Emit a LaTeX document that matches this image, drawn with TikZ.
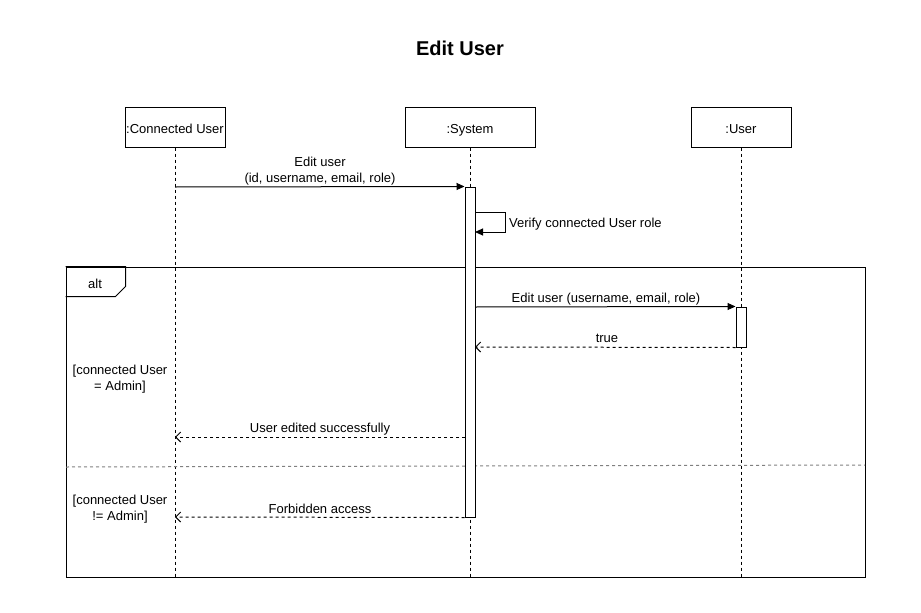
\documentclass[tikz,border=0pt]{standalone}
\usepackage{fontspec}
\setmainfont{Liberation Sans}
\usetikzlibrary{arrows.meta}
\begin{document}
\begin{tikzpicture}[x=1pt,y=-1pt,
  every node/.style={font=\fontsize{13}{16}\selectfont, inner sep=0pt},
  txt/.style={yshift=-2pt},
  head/.style={draw, fill=white, minimum width=100pt, minimum height=40pt, line width=1pt, text height=13.4pt, text depth=0pt},
  life/.style={dash pattern=on 3pt off 3pt, line width=1pt},
  act/.style={draw, fill=white, minimum width=10pt, line width=1pt},
  sync/.style={-{Triangle[length=8pt,width=7pt]}, line width=1pt},
  reply/.style={-{Straight Barb[length=5pt,width=10pt]}, dash pattern=on 3pt off 3pt, line width=1pt},
  frm/.style={draw, line width=1pt, minimum width=799pt, minimum height=310pt},
  sep/.style={draw=gray, dash pattern=on 3pt off 3pt, line width=1pt},
  lbl/.style={txt, align=center}
]
\useasboundingbox (0,0) rectangle (921,613);

\node[font=\fontsize{20}{24}\selectfont\bfseries] (title) at (460,48) {Edit User};

\node[head] (cu) at (175,127) {:Connected User};
\node[head, minimum width=130pt] (sys) at (470,127) {:System};
\node[head] (usr) at (741,127) {:User};

\coordinate (bottom) at (0,577);
\draw[life] (cu.south) -- (cu.south |- bottom);
\draw[life] (sys.south) -- (sys.south |- bottom);
\draw[life] (usr.south) -- (usr.south |- bottom);

% alt frame
\node[frm] (frame) at (465.5,422) {};
\draw[line width=1pt] (frame.north west) -- ++(60,0) -- ++(0,20) -- ++(-10,10) -- ++(-50,0);
\node[txt] (alt) at (95,282) {alt};
\coordinate (sepL) at (66,467);
\coordinate (sepR) at (865,465);
\draw[sep] (sepL) -- (sepR);

% activations
\node[act, minimum height=330pt] (a1) at (470,352) {};
\node[act, minimum height=40pt] (a2) at (741,327) {};

% messages
\coordinate (m1a) at (175,187);
\draw[sync] (m1a) -- (a1.north west);
\node[lbl] (l1) at (320,169) {Edit user\\(id, username, email, role)};

\coordinate (s1) at (475,212);
\coordinate (s2) at (475,232);
\draw[sync] (s1) -- ++(30,0) |- (s2);
\node[txt, anchor=west] (l2) at (509,222) {Verify connected User role};

\coordinate (m3a) at (475,307);
\draw[sync] (m3a) -- (a2.north west);
\node[txt] (l3) at (606,297) {Edit user (username, email, role)};

\coordinate (m4b) at (475,347);
\draw[reply] (a2.south west) -- (m4b);
\node[txt] (l4) at (607,336) {true};

\coordinate (m5a) at (465,437);
\coordinate (m5b) at (175,437);
\draw[reply] (m5a) -- (m5b);
\node[txt] (l5) at (320,427) {User edited successfully};

\coordinate (m6b) at (175,517);
\draw[reply] (a1.south west) -- (m6b);
\node[txt] (l6) at (320,507) {Forbidden access};

\node[lbl] (g1) at (120,377) {[connected User\\= Admin]};
\node[lbl] (g2) at (120,507) {[connected User\\!= Admin]};
\end{tikzpicture}
\end{document}
